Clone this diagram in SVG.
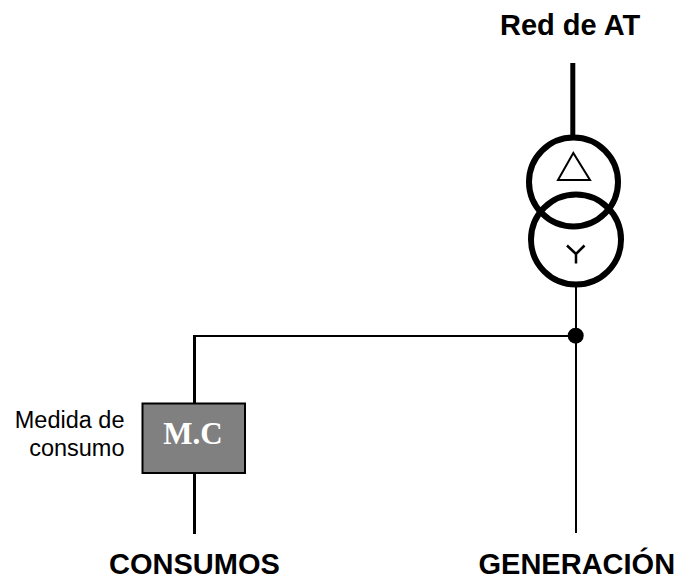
<svg xmlns="http://www.w3.org/2000/svg" width="678" height="579" viewBox="0 0 678 579">
<style>
.l{fill:none;stroke:#000;stroke-linecap:butt}
.b{font-family:"Liberation Sans",Arial,sans-serif;font-weight:700;font-size:29px;fill:#000}
.s{font-family:"Liberation Sans",Arial,sans-serif;font-size:23.5px;fill:#000;text-anchor:end}
</style>
<rect width="678" height="579" fill="#fff"/>
<g id="connectors">
<path class="l" stroke-width="5" d="M572.8 63V135"/>
<path class="l" stroke-width="2" d="M576 286V533"/>
<path class="l" stroke-width="2" d="M576 336H194"/>
<path class="l" stroke-width="3" d="M194.500 335V403M194.500 473V534"/>
</g>
<g id="transformer">
<circle class="l" stroke-width="6" cx="573.5" cy="182" r="44.500"/>
<circle class="l" stroke-width="6" cx="576" cy="239.500" r="45"/>
<path class="l" stroke-width="2" d="M573.3 153L558 180H590Z"/>
<path class="l" stroke-width="2.500" d="M567 245.500L576 254L584.500 245.500M576 254V263.500"/>
</g>
<g id="junction"><circle cx="575.7" cy="335.7" r="8" fill="#000"/></g>
<g id="mc">
<rect x="142.500" y="403.500" width="102.500" height="69.500" fill="#808080" stroke="#000" stroke-width="2"/>
<text x="193" y="444" text-anchor="middle" font-family="Liberation Serif,Times New Roman,serif" font-weight="700" font-size="31" fill="#fff">M.C</text>
</g>
<g id="labels">
<text class="b" x="500" y="34.500">Red de AT</text>
<text class="s" x="124.500" y="427.500">Medida de</text>
<text class="s" x="124.500" y="456">consumo</text>
<text class="b" x="109" y="573.500">CONSUMOS</text>
<text class="b" x="478.500" y="573.500">GENERACIÓN</text>
</g>
</svg>
